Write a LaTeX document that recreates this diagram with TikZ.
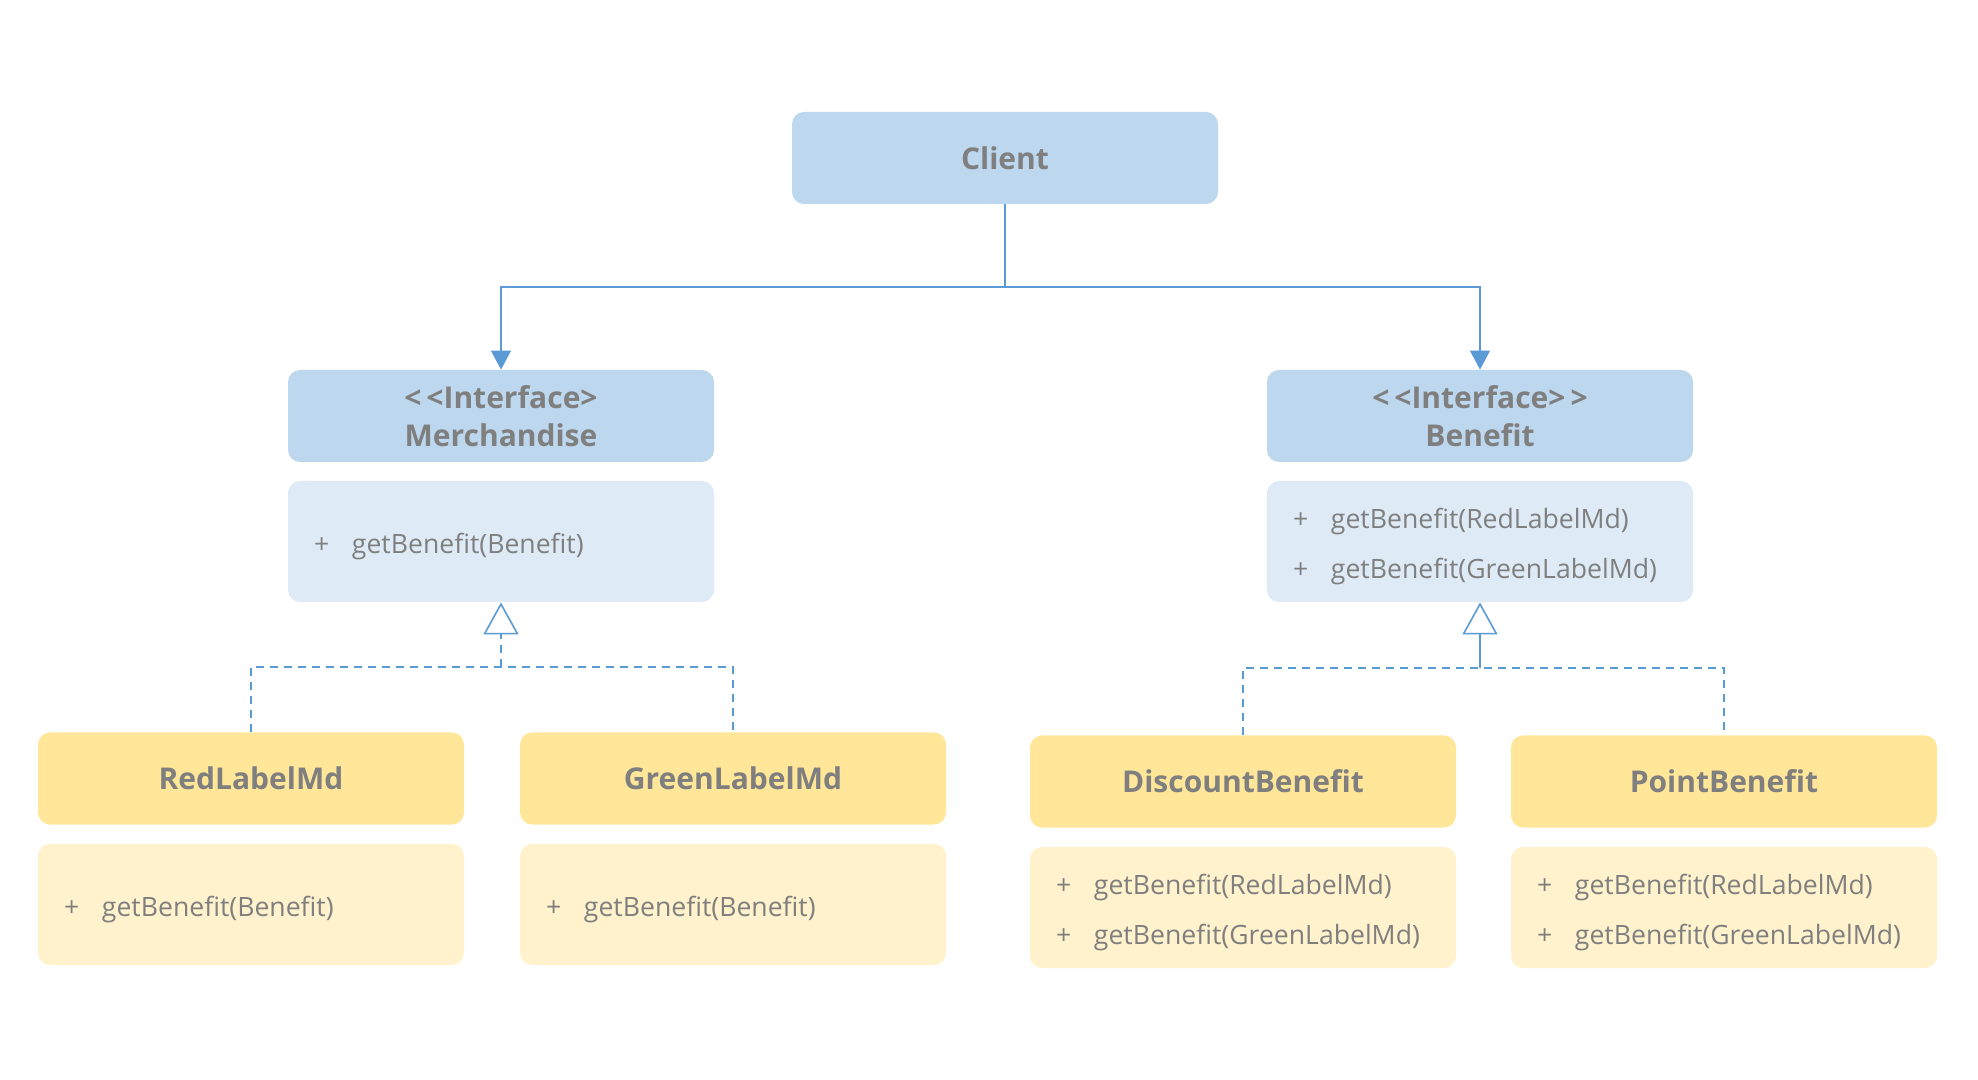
\documentclass[tikz,border=0pt]{standalone}
\usepackage{fontspec}
\setmainfont{Open Sans}
\usetikzlibrary{arrows.meta}

\definecolor{headblue}{HTML}{BDD7EE}
\definecolor{bodyblue}{HTML}{DEEBF7}
\definecolor{headyellow}{HTML}{FFE699}
\definecolor{bodyyellow}{HTML}{FFF2CC}
\definecolor{textgray}{HTML}{7F7F7F}
\definecolor{lineblue}{HTML}{5B9BD5}

\newcommand{\meth}[1]{\raisebox{-2.5pt}[\height][\depth]{\makebox[16pt][l]{\hspace*{-3pt}+}#1}}
\newcommand{\stereo}[1]{<\,<#1}

\tikzset{
  classhead/.style={rectangle, rounded corners=6pt, minimum width=213pt,
    minimum height=46pt, inner sep=0pt, text=textgray, align=center,
    font={\fontsize{15}{19}\selectfont\bfseries}},
  classbody/.style={rectangle, rounded corners=6pt, minimum width=213pt,
    minimum height=60.5pt, inner xsep=16pt, inner ysep=0pt, text=textgray,
    text width=181pt, align=left, font={\fontsize{13.3}{25}\selectfont}},
  assoc/.style={draw=lineblue, line width=0.6pt,
    -{Triangle[width=10pt,length=9.5pt]}},
  realize/.style={draw=lineblue, line width=1pt, dash pattern=on 4pt off 3pt},
  hollow/.style={draw=lineblue, line width=0.8pt,
    -{Triangle[open,width=17.5pt,length=16pt,fill=white]}}
}

\begin{document}
\begin{tikzpicture}[x=0.5pt,y=-0.5pt]
  \useasboundingbox (0,0) rectangle (1978,1080);

  % interfaces and client
  \begin{scope}[every node/.append style={fill=headblue}]
    \node[classhead] (client)    at (1005,158) {Client};
    \node[classhead] (merchHead) at (501,416)  {\stereo{Interface>}\\Merchandise};
    \node[classhead] (benHead)   at (1480,416) {\stereo{Interface>\,>}\\Benefit};
  \end{scope}
  \begin{scope}[every node/.append style={fill=bodyblue}]
    \node[classbody] (merchBody) at (501,541.5)  {\meth{getBenefit(Benefit)}};
    \node[classbody] (benBody)   at (1480,541.5) {\meth{getBenefit(RedLabelMd)}\\
                                                  \meth{getBenefit(GreenLabelMd)}};
  \end{scope}

  % concrete classes
  \begin{scope}[every node/.append style={fill=headyellow}]
    \node[classhead] (redHead)      at (251,778.5)  {RedLabelMd};
    \node[classhead] (greenHead)    at (733,778.5)  {GreenLabelMd};
    \node[classhead] (discountHead) at (1243,781.5) {DiscountBenefit};
    \node[classhead] (pointHead)    at (1724,781.5) {PointBenefit};
  \end{scope}
  \begin{scope}[every node/.append style={fill=bodyyellow}]
    \node[classbody] (redBody)      at (251,904.5)  {\meth{getBenefit(Benefit)}};
    \node[classbody] (greenBody)    at (733,904.5)  {\meth{getBenefit(Benefit)}};
    \node[classbody] (discountBody) at (1243,907.5) {\meth{getBenefit(RedLabelMd)}\\
                                                     \meth{getBenefit(GreenLabelMd)}};
    \node[classbody] (pointBody)    at (1724,907.5) {\meth{getBenefit(RedLabelMd)}\\
                                                     \meth{getBenefit(GreenLabelMd)}};
  \end{scope}

  % client uses both interfaces
  \coordinate (split) at (1005,287);
  \draw[assoc] (client.south) -- (split) -| (merchHead.north);
  \draw[assoc] (client.south) -- (split) -| (benHead.north);

  % realizations
  \coordinate (merchJoin) at (501,667);
  \coordinate (benJoin)   at (1480,668);
  \draw[realize] (redHead.north) |- (merchJoin) -| (greenHead.north);
  \draw[realize] (discountHead.north) |- (benJoin) -| (pointHead.north);
  \draw[hollow, dash pattern=on 4pt off 3pt] (merchJoin) -- (merchBody.south);
  \draw[hollow] (benJoin) -- (benBody.south);

\end{tikzpicture}
\end{document}
